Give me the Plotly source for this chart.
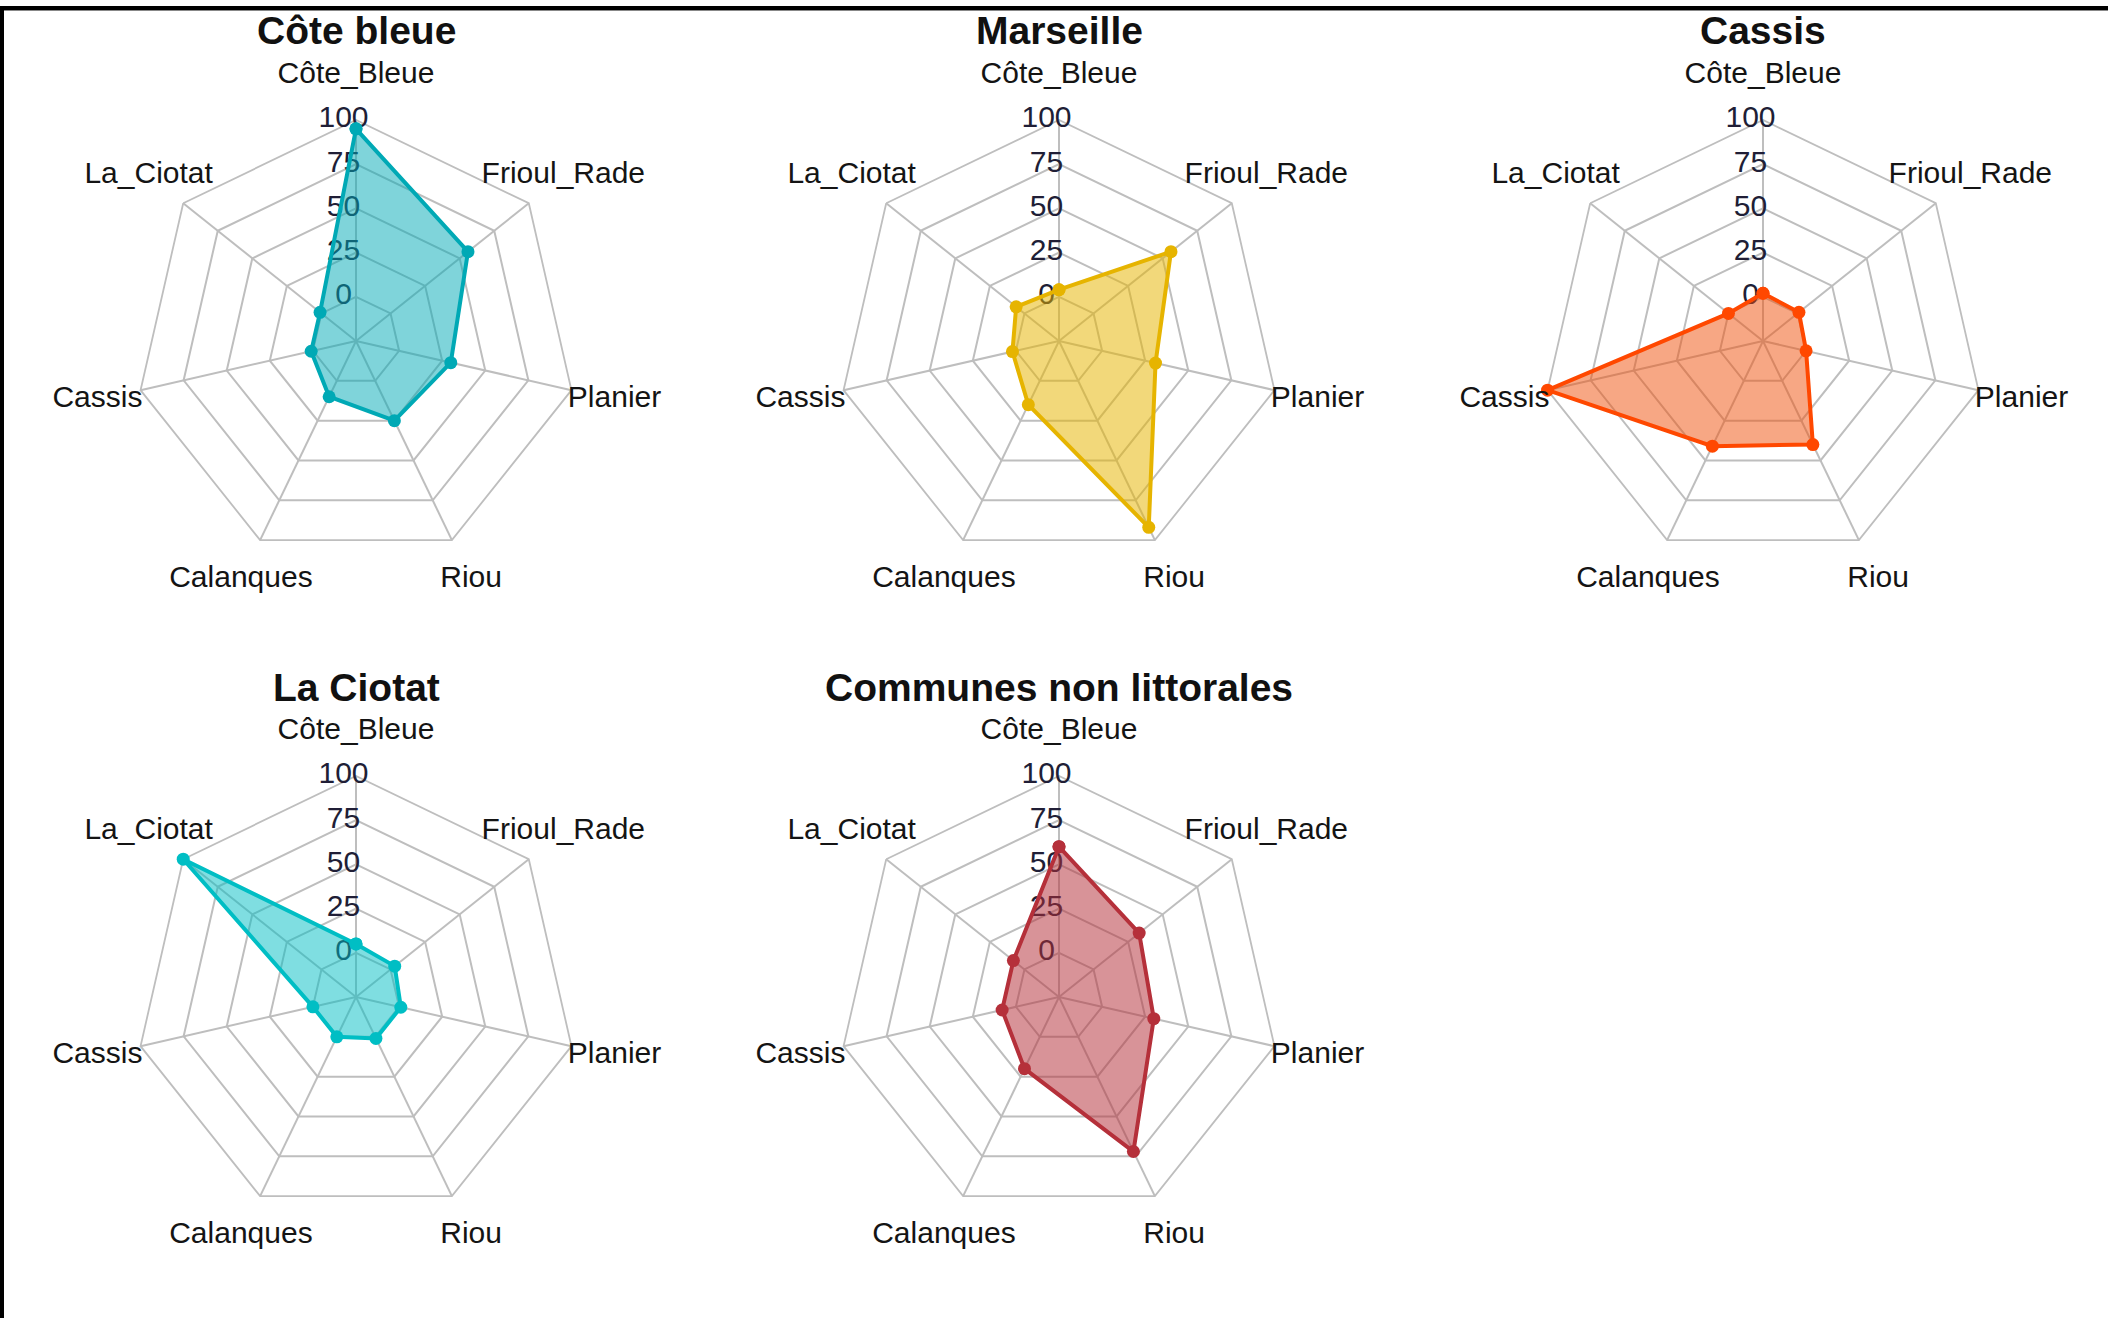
import plotly.graph_objects as go

# ---------------- data ----------------
categories = ['Côte_Bleue', 'Frioul_Rade', 'Planier', 'Riou', 'Calanques', 'Cassis', 'La_Ciotat']
titles = ['Côte bleue', 'Marseille', 'Cassis', 'La Ciotat', 'Communes non littorales']
cote_bleue = [95, 56, 30, 25, 10, 1, 1]
marseille = [4, 56, 31, 92, 15, 2, 6]
cassis = [2, 1, 0, 40, 41, 100, 0]
la_ciotat = [5, 3, 1, 1, 0, 0, 100]
non_littorales = [60, 33, 30, 72, 20, 8, 8]
tick_values = [0, 25, 50, 75, 100]
tick_labels = ['0', '25', '50', '75', '100']

series = [cote_bleue, marseille, cassis, la_ciotat, non_littorales]
line_colors = ['#00a9b5', '#e6b400', '#ff4800', '#00bec4', '#b5303a']
fill_colors = ['rgba(0,169,181,0.5)', 'rgba(230,180,0,0.52)', 'rgba(240,80,10,0.5)',
               'rgba(0,190,196,0.5)', 'rgba(181,48,58,0.52)']

# ---------------- layout constants ----------------
W, H = 2108, 1318
R = 221                      # radius of the 100 ring (px)
R_MIN = -25                  # value at the centre (0 sits at 1/5 of the radius)
LABEL_R = 125                # category labels at 1.2 x radius
OUTER = 1.3                  # overlay polar radius factor
R_MAX_OVER = R_MIN + (100 - R_MIN) * OUTER
centers = [(356, 341), (1059, 341), (1763, 341), (356, 997), (1059, 997)]
title_y = [31, 31, 31, 687, 687]
grid_col = '#bebebe'
label_col = '#141414'
tick_col = '#201e36'
FONT = 'Liberation Sans, Arial, sans-serif'
NB = '\u00a0'

fig = go.Figure()
polars = {}
n = len(series)


def dom(cx, cy, rad):
    return dict(x=[(cx - rad) / W, (cx + rad) / W], y=[1 - (cy + rad) / H, 1 - (cy - rad) / H])


for i, (vals, title) in enumerate(zip(series, titles)):
    cx, cy = centers[i]
    grid_id = 'polar' if i == 0 else f'polar{i + 1}'
    over_id = f'polar{i + 1 + n}'

    # grid polar (web)
    polars[grid_id] = dict(
        domain=dom(cx, cy, R), gridshape='linear', bgcolor='rgba(0,0,0,0)',
        radialaxis=dict(range=[R_MIN, 100], tickvals=tick_values, showticklabels=False,
                        ticks='', showline=False, gridcolor=grid_col, gridwidth=1.8),
        angularaxis=dict(type='category', categoryorder='array', categoryarray=categories,
                         direction='clockwise', rotation=90, showticklabels=False, ticks='',
                         showline=True, linecolor=grid_col, linewidth=1.8,
                         gridcolor=grid_col, gridwidth=1.8),
    )
    fig.add_trace(go.Scatterpolar(r=vals, theta=categories, mode='none', subplot=grid_id,
                                  showlegend=False, hoverinfo='skip'))

    # overlay polar carrying data and texts, same value scale
    polars[over_id] = dict(
        domain=dom(cx, cy, R * OUTER), gridshape='circular', bgcolor='rgba(0,0,0,0)',
        radialaxis=dict(range=[R_MIN, R_MAX_OVER], showgrid=False, showticklabels=False,
                        ticks='', showline=False),
        angularaxis=dict(type='category', categoryorder='array', categoryarray=categories,
                         direction='clockwise', rotation=90, showticklabels=False, ticks='',
                         showline=False, showgrid=False),
    )
    fig.add_trace(go.Scatterpolar(
        r=tick_values, theta=[categories[0]] * len(tick_values), mode='text',
        text=[t + NB * 3 for t in tick_labels], textposition='middle center',
        textfont=dict(family=FONT, size=30, color=tick_col),
        subplot=over_id, showlegend=False, hoverinfo='skip', cliponaxis=False))
    fig.add_trace(go.Scatterpolar(
        r=vals + vals[:1], theta=categories + categories[:1], mode='lines+markers',
        fill='toself', fillcolor=fill_colors[i],
        line=dict(color=line_colors[i], width=4),
        marker=dict(color=line_colors[i], size=13),
        subplot=over_id, showlegend=False, name=title, cliponaxis=False))
    fig.add_trace(go.Scatterpolar(
        r=[LABEL_R] * len(categories), theta=categories, mode='text', text=categories,
        textposition='middle center', textfont=dict(family=FONT, size=30, color=label_col),
        subplot=over_id, showlegend=False, hoverinfo='skip', cliponaxis=False))

annotations = []
for i, title in enumerate(titles):
    cx, cy = centers[i]
    annotations.append(dict(text=f'<b>{title}</b>', x=cx / W, y=1 - title_y[i] / H,
                            xref='paper', yref='paper', xanchor='center', yanchor='middle',
                            showarrow=False, font=dict(family=FONT, size=39, color='#111111')))

shapes = [
    dict(type='rect', xref='paper', yref='paper', x0=0, x1=1, y0=1 - 10 / H, y1=1 - 6 / H,
         fillcolor='black', line=dict(width=0)),
    dict(type='rect', xref='paper', yref='paper', x0=0, x1=1, y0=1 - 11 / H, y1=1 - 10 / H,
         fillcolor='#888888', line=dict(width=0)),
    dict(type='rect', xref='paper', yref='paper', x0=0, x1=4 / W, y0=0, y1=1 - 6 / H,
         fillcolor='black', line=dict(width=0)),
]

fig.update_layout(
    width=W, height=H, margin=dict(l=0, r=0, t=0, b=0),
    paper_bgcolor='white', plot_bgcolor='white',
    annotations=annotations, shapes=shapes, showlegend=False,
    **polars,
)

fig.write_html("out.html", config={'displayModeBar': False},
               post_script="document.body.style.margin='0';document.body.style.overflow='hidden';")
